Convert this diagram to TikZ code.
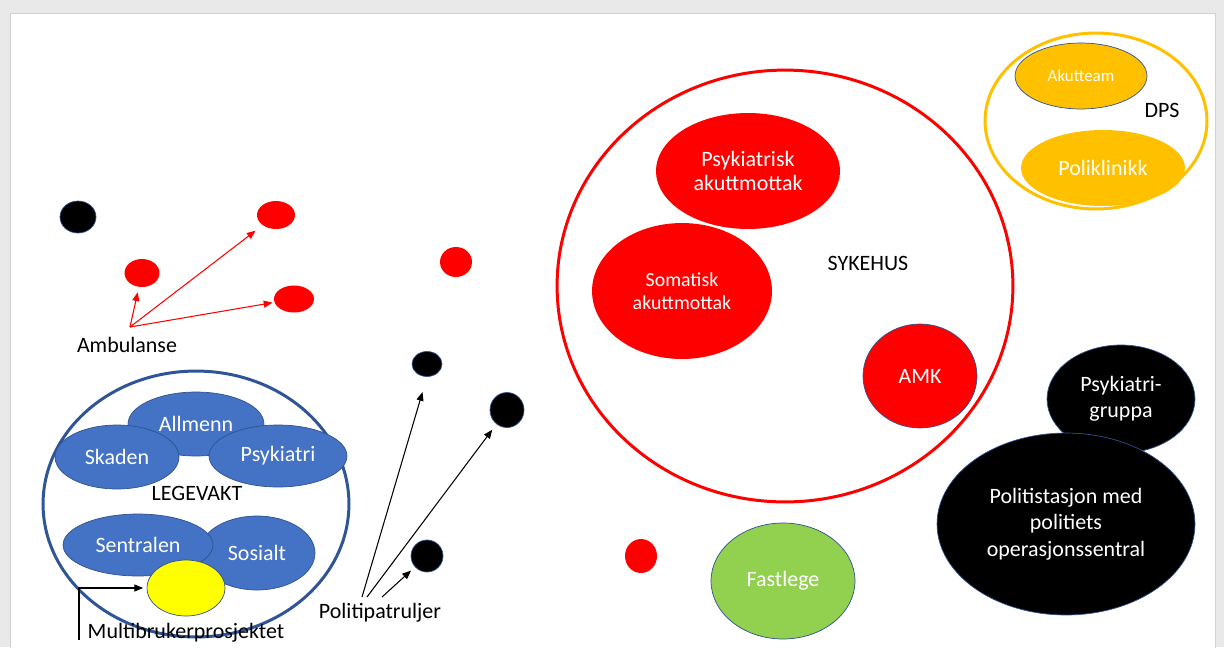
\documentclass[tikz,border=0pt]{standalone}
\usepackage{fontspec}
\setmainfont{Carlito}
\usetikzlibrary{shapes.geometric,arrows.meta}
\definecolor{legeblue}{HTML}{4472C4}
\definecolor{edgeblue}{HTML}{2F528F}
\definecolor{ringblue}{HTML}{2F5597}
\definecolor{sykered}{HTML}{FF0000}
\definecolor{dpsgold}{HTML}{FFC000}
\definecolor{fastgreen}{HTML}{92D050}
\definecolor{mbyellow}{HTML}{FFFF00}
\definecolor{framegray}{HTML}{E9E9E9}

\tikzset{
  blob/.style={ellipse, inner sep=0pt, text=white, align=center,
    font=\fontsize{12.5}{15}\selectfont},
  rad/.style 2 args={minimum width=#1*0.04cm, minimum height=#2*0.04cm},
  ring/.style={ellipse, inner sep=0pt, line width=1.7pt},
  plain/.style={inner sep=0pt, align=center, font=\fontsize{12.5}{15}\selectfont},
  arr/.style={-{Triangle[length=5pt,width=4pt]}, line width=0.6pt}
}

\begin{document}
\begin{tikzpicture}[x=0.02cm, y=-0.02cm]
        \useasboundingbox (0,0) rectangle (1224,647);
        % Slide frame
        \fill[framegray] (0,0) rectangle (1224,647);
        \draw[black!18, fill=white] (10,13) rectangle (1215,652);

        % Ambulance
        \node[blob, fill=black, draw=edgeblue, rad={18}{16}] (sort1) at (78,217) {};
        \node[blob, fill=sykered, rad={17.5}{14}] (amb1) at (142,273) {};
        \node[blob, fill=sykered, rad={19}{14}] (amb2) at (276,215) {};
        \node[blob, fill=sykered, rad={20}{13.5}] (amb3) at (294,299) {};
        \node[plain] (ambulanse) at (127,345) {Ambulanse};
        \coordinate (ambfoot) at (130,327);
        \draw[arr, sykered, shorten >=3pt] (ambfoot) -- (amb1);
        \draw[arr, sykered, shorten >=5pt] (ambfoot) -- (amb2);
        \draw[arr, sykered, shorten >=1pt] (ambfoot) -- (amb3);

        % Legevakt
        \node[ring, draw=ringblue, rad={153}{133}] (legevakt) at (196,504) {};
        \node[blob, fill=legeblue, draw=edgeblue, rad={68}{32}] (allmenn) at (196,424) {Allmenn};
        \node[blob, fill=legeblue, draw=edgeblue, rad={62}{32}] (skaden) at (117,457) {Skaden};
        \node[blob, fill=legeblue, draw=edgeblue, rad={69}{31}] (psykiatri) at (278,456) {Psykiatri};
        \node[plain] (legetekst) at (197,493) {LEGEVAKT};
        \node[blob, fill=legeblue, draw=edgeblue, rad={58}{37}] (sosialt) at (257,553) {Sosialt};
        \node[blob, fill=legeblue, draw=edgeblue, rad={75}{31}] (sentralen) at (138,545) {Sentralen};
        \node[blob, fill=mbyellow, draw=edgeblue, rad={39}{28}] (multi) at (186,588) {};
        \node[plain] (multitekst) at (186,633) {Multibrukerprosjektet};
        \coordinate (multifoot) at (79,640);
        \draw[arr, shorten >=2pt] (multifoot) |- (multi);

        % Police patrols
        \node[blob, fill=sykered, rad={16}{15}] (amb4) at (456,262) {};
        \node[blob, fill=black, draw=edgeblue, rad={15}{12.5}] (patrol1) at (427,364) {};
        \node[blob, fill=black, draw=edgeblue, rad={17}{17.5}] (patrol2) at (507,410) {};
        \node[blob, fill=black, draw=edgeblue, rad={16}{16}] (patrol3) at (427,556) {};
        \node[plain] (politi) at (380,613) {Politipatruljer};
        \coordinate (polfoot1) at (362,597);
        \coordinate (polfoot2) at (367,597);
        \coordinate (polfoot3) at (382,597);
        \draw[arr, shorten >=9pt] (polfoot1) -- (patrol1.south);
        \draw[arr, shorten >=4pt] (polfoot2) -- (patrol2);
        \draw[arr, shorten >=3pt] (polfoot3) -- (patrol3);

        % Sykehus
        \node[ring, draw=sykered, rad={228}{216}] (sykehus) at (785,286) {};
        \node[blob, fill=sykered, rad={92}{58}, font=\fontsize{12.5}{13.5}\selectfont] (psykmottak) at (748,171) {Psykiatrisk\\akuttmottak};
        \node[blob, fill=sykered, rad={90}{68}, font=\fontsize{11.3}{13}\selectfont] (sommottak) at (682,291) {Somatisk\\akuttmottak};
        \node[plain] (sykehustekst) at (868,263) {SYKEHUS};
        \node[blob, fill=sykered, draw=edgeblue, rad={57}{52}] (amk) at (920,376) {AMK};
        \node[blob, fill=sykered, rad={16}{17}] (amb5) at (641,556) {};
        \node[blob, fill=fastgreen, draw=edgeblue, rad={72}{58}] (fastlege) at (783,581) {Fastlege};

        % DPS
        \node[ring, draw=dpsgold, rad={111}{88}] (dps) at (1096,121) {};
        \node[blob, fill=dpsgold, draw=edgeblue, rad={66}{33}, font=\fontsize{9.6}{11}\selectfont] (akutteam) at (1081,76) {Akutteam};
        \node[plain] (dpstekst) at (1162,110) {DPS};
        \node[blob, fill=dpsgold, rad={82}{38}] (poliklinikk) at (1103,168) {Poliklinikk};

        % Police
        \node[blob, fill=black, draw=edgeblue, rad={74}{54}] (psykgruppe) at (1121,399) {Psykiatri-\\gruppa};
        \node[blob, fill=black, draw=edgeblue, rad={129}{91}] (politistasjon) at (1066,524) {Politistasjon med\\politiets\\operasjonssentral};
\end{tikzpicture}
\end{document}
